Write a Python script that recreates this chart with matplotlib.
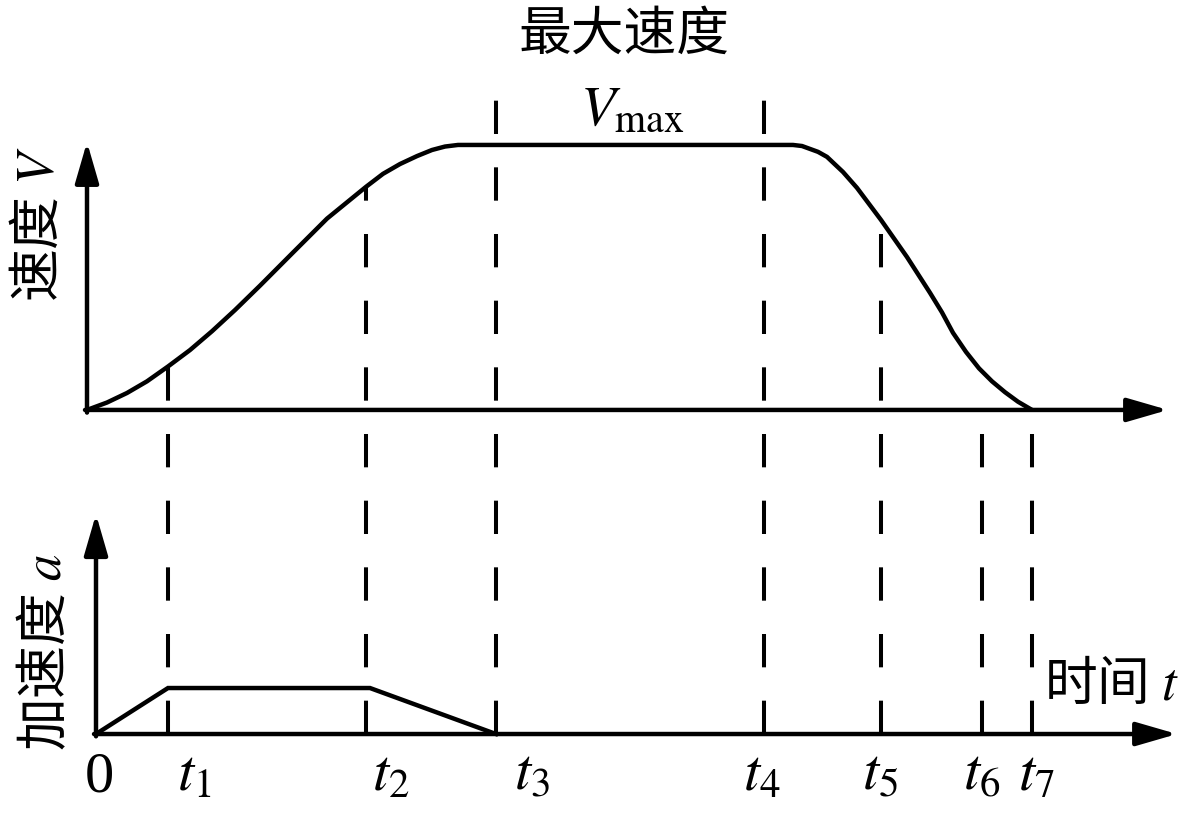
import numpy as np
import matplotlib
matplotlib.use("Agg")
import matplotlib.pyplot as plt

plt.rcParams['font.family'] = ['Noto Sans CJK SC', 'DejaVu Sans']
plt.rcParams['mathtext.fontset'] = 'stix'
plt.rcParams['lines.scale_dashes'] = False

# velocity curve (time units, V / Vmax)
vel_t = [0, 0.20, 0.40, 0.60, 0.81, 1.03, 1.25, 1.48, 1.73, 2.06, 2.40, 2.79, 2.96, 3.13, 3.30, 3.45,
         3.58, 3.71,
         7.06, 7.15, 7.31, 7.40, 7.56, 7.70, 7.94, 8.20, 8.43, 8.55, 8.66, 8.79, 8.92, 9.05, 9.18, 9.31, 9.45]
vel_v = [0, 0.028, 0.064, 0.108, 0.164, 0.226, 0.297, 0.377, 0.469, 0.594, 0.722, 0.842, 0.891, 0.928,
         0.958, 0.981, 0.994, 1.0,
         1.0, 0.996, 0.974, 0.955, 0.898, 0.838, 0.717, 0.577, 0.442, 0.368, 0.291, 0.219, 0.157, 0.108,
         0.067, 0.031, 0.0]

# acceleration (trapezoid up to t3)
acc_t = [0.09, 0.81, 2.83, 4.09]
acc_a = [0, 1, 1, 0]

# time marks t1..t7
t_marks = [0.81, 2.79, 4.09, 6.77, 7.94, 8.95, 9.45]
t_names = ["$t_1$", "$t_2$", "$t_3$", "$t_4$", "$t_5$", "$t_6$", "$t_7$"]
# where each guide line stops at the top: 'c' = on the curve, number = value
guide_top = ['c', 'c', 1.17, 1.17, 'c', 0.0, 0.0]

# label centres (pixels)
label_x = [194, 391, 532, 762, 880, 982, 1036]

W, H = 1187, 822
fig = plt.figure(figsize=(W / 100, H / 100), dpi=100)
fig.patch.set_facecolor("white")

ax_v = fig.add_axes([0, 0, 1, 1])
ax_a = fig.add_axes([0, 0, 1, 1])
ax_a.patch.set_alpha(0)
for ax in (ax_v, ax_a):
    ax.axis("off")
    ax.set_xlim(-0.87, 11.0)
ax_v.set_ylim(-1.555, 1.547)
ax_a.set_ylim(-1.913, 15.96)

lw_axis = 3.2
arrow = dict(arrowstyle="-|>,head_length=1.0,head_width=0.29", mutation_scale=25,
             lw=lw_axis, color="black", shrinkA=0, shrinkB=0)

# top panel axes
ax_v.annotate("", xy=(10.81, 0), xytext=(-0.02, 0), arrowprops=arrow)
ax_v.annotate("", xy=(0, 1.011), xytext=(0, -0.01), arrowprops=arrow)
# bottom panel axes
ax_a.annotate("", xy=(10.90, 0), xytext=(0.07, 0), arrowprops=arrow)
ax_a.annotate("", xy=(0.09, 4.78), xytext=(0.09, -0.05), arrowprops=arrow)

# curves
ax_v.plot(vel_t, vel_v, color="black", lw=3.2, solid_capstyle="butt")
ax_a.plot(acc_t, acc_a, color="black", lw=3.2, solid_joinstyle="miter")

# dashed guide lines, drawn from the bottom baseline upwards
y_bot = ax_v.transData.inverted().transform(ax_a.transData.transform((0, 0)))[1]
for tm, top in zip(t_marks, guide_top):
    y_top = np.interp(tm, vel_t, vel_v) if top == 'c' else top
    ax_v.plot([tm, tm], [y_bot, y_top], color="black", lw=2.9, dashes=(24, 24),
              dash_capstyle="butt")


def px(x, y):
    return x / W, 1 - y / H


# texts
fig.text(*px(624, 34), "最大速度", fontsize=38, ha="center", va="center")
fig.text(*px(632, 108), r"$V_{\mathrm{max}}$", fontsize=41, ha="center", va="center")
fig.text(*px(38, 224), "速度 $V$", fontsize=38, ha="center", va="center", rotation=90)
fig.text(*px(46, 652), "加速度 $a$", fontsize=38, ha="center", va="center", rotation=90)
fig.text(*px(1044, 684), "时间 $t$", fontsize=38, ha="left", va="center")
fig.text(*px(99, 791), "0", fontsize=42, ha="center", va="baseline", family="Liberation Serif")
for lx, name in zip(label_x, t_names):
    fig.text(*px(lx, 790), name, fontsize=42, ha="center", va="baseline")

fig.savefig("out.png", dpi=100, facecolor="white")
